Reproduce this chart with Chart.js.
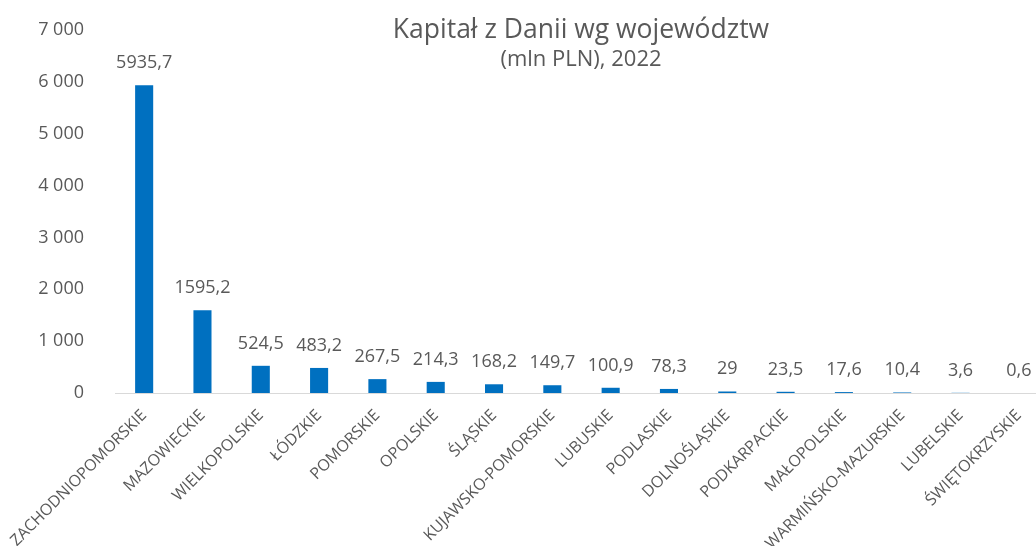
<!DOCTYPE html>
<html lang="pl">
<head>
<meta charset="utf-8">
<script src="https://cdn.jsdelivr.net/npm/chart.js@4.4.1/dist/chart.umd.min.js"></script>
<style>
    html, body { margin: 0; padding: 0; background: #fff; overflow: hidden; }
    #wrap { position: relative; width: 1048px; height: 546px; }
    .tytul { position: absolute; left: 581px; transform: translateX(-50%); white-space: nowrap;
             font-family: 'Open Sans', sans-serif; color: #595959; line-height: 1; }
    #tytul1 { top: 15px; font-size: 26.5px; }
    #tytul2 { top: 46px; font-size: 22px; }
</style>
</head>
<body>
<div id="wrap">
    <canvas id="myChart" width="1048" height="546"></canvas>
    <div class="tytul" id="tytul1">Kapitał z Danii wg województw</div>
    <div class="tytul" id="tytul2">(mln PLN), 2022</div>
</div>
<script>
// Województwa
const wojewodztwa = [
    'ZACHODNIOPOMORSKIE', 'MAZOWIECKIE', 'WIELKOPOLSKIE', 'ŁÓDZKIE', 'POMORSKIE',
    'OPOLSKIE', 'ŚLĄSKIE', 'KUJAWSKO-POMORSKIE', 'LUBUSKIE', 'PODLASKIE',
    'DOLNOŚLĄSKIE', 'PODKARPACKIE', 'MAŁOPOLSKIE', 'WARMIŃSKO-MAZURSKIE', 'LUBELSKIE', 'ŚWIĘTOKRZYSKIE'
];

// Kapitał w mln PLN
const kapital = [5935.7, 1595.2, 524.5, 483.2, 267.5, 214.3, 168.2, 149.7, 100.9, 78.3, 29, 23.5, 17.6, 10.4, 3.6, 0.6];

// Oś Y
const osYMin = 0;
const osYMax = 7000;
const osYKrok = 1000;

const szary = '#595959';
const czcionka = "'Open Sans', sans-serif";

// Przecinek dziesiętny, spacja jako separator tysięcy
const formatWartosc = (v) => String(v).replace('.', ',');
const formatTick = (v) => String(v).replace(/\B(?=(\d{3})+(?!\d))/g, ' ');

// Etykiety nad słupkami
const etykietyPlugin = {
    id: 'etykiety',
    afterDatasetsDraw(chart) {
        const ctx = chart.ctx;
        const meta = chart.getDatasetMeta(0);
        ctx.save();
        ctx.font = `18px ${czcionka}`;
        ctx.fillStyle = szary;
        ctx.textAlign = 'center';
        ctx.textBaseline = 'alphabetic';
        meta.data.forEach((bar, i) => {
            ctx.fillText(formatWartosc(kapital[i]), bar.x, bar.y - 17);
        });
        ctx.restore();
    }
};

const ctx = document.getElementById('myChart').getContext('2d');

const config = {
    type: 'bar',
    data: {
        labels: wojewodztwa,
        datasets: [{
            data: kapital,
            backgroundColor: '#0070C0',
            borderWidth: 0,
            categoryPercentage: 1,
            barPercentage: 0.31
        }]
    },
    options: {
        responsive: false,
        animation: false,
        layout: { padding: { left: 37, top: 30, right: 0, bottom: 0 } },
        plugins: {
            legend: { display: false },
            tooltip: { enabled: false },
            title: { display: false }
        },
        scales: {
            x: {
                grid: { display: false, drawTicks: false },
                border: { display: true, color: '#d9d9d9', width: 1 },
                ticks: {
                    color: szary,
                    font: { family: czcionka, size: 16 },
                    minRotation: 45,
                    maxRotation: 45,
                    autoSkip: false,
                    padding: 13
                },
                afterFit(s) {
                    s.height = 153;
                    s.paddingLeft = 0;
                    s.paddingRight = 0;
                }
            },
            y: {
                min: osYMin,
                max: osYMax,
                grid: { display: false, drawTicks: false },
                border: { display: false },
                ticks: {
                    stepSize: osYKrok,
                    color: szary,
                    font: { family: czcionka, size: 18 },
                    padding: 31,
                    callback: (v) => formatTick(v)
                },
                afterFit(s) {
                    s.width = 78;
                    s.paddingTop = 0;
                    s.paddingBottom = 0;
                }
            }
        }
    },
    plugins: [etykietyPlugin]
};

// Wykres
let wykres = new Chart(ctx, config);
</script>
</body>
</html>
